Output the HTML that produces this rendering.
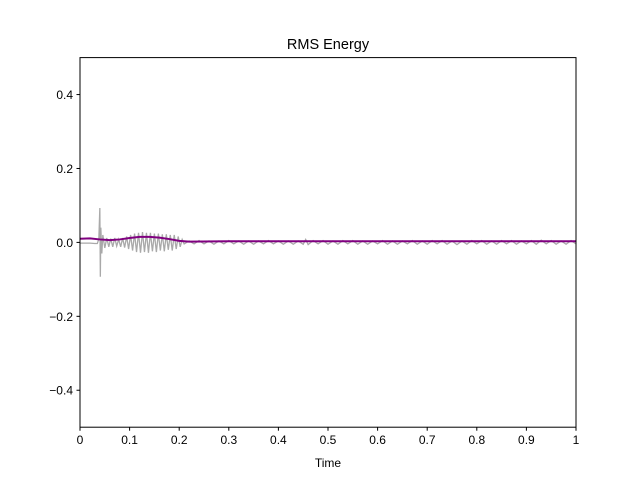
<!DOCTYPE html>
<html><head><meta charset="utf-8"><style>
body{margin:0;background:#fff;font-family:"Liberation Sans","DejaVu Sans",sans-serif}
</style></head><body>
<svg id="chart" width="640" height="480" xmlns="http://www.w3.org/2000/svg">
<rect width="640" height="480" fill="#fff"/>
<text x="328" y="49" font-size="14.5" text-anchor="middle">RMS Energy</text>
<g id="plot"></g>
<rect x="80" y="57.6" width="496" height="369.6" fill="none" stroke="#000" stroke-width="1"/>
<g id="xt"></g><g id="yt"></g>
<text x="328" y="467" font-size="12" text-anchor="middle">Time</text>
</svg>
<script>
const xTicks=[0,0.1,0.2,0.3,0.4,0.5,0.6,0.7,0.8,0.9,1];
const xTickLabels=["0","0.1","0.2","0.3","0.4","0.5","0.6","0.7","0.8","0.9","1"];
const yTicks=[0.4,0.2,0,-0.2,-0.4];
const yTickLabels=["0.4","0.2","0.0","\u22120.2","\u22120.4"];
const waveTimes=[0,0.01,0.02,0.03,0.035,0.038,0.04,0.041,0.042,0.044,0.046,0.05,0.054,0.058,0.062,0.066,0.07,0.074,0.078,0.082,0.086,0.09,0.094,0.098,0.102,0.106,0.11,0.114,0.118,0.122,0.126,0.13,0.134,0.138,0.142,0.146,0.15,0.154,0.158,0.162,0.166,0.17,0.174,0.178,0.182,0.186,0.19,0.194,0.198,0.202,0.206,0.21,0.22,0.23,0.24,0.25,0.26,0.27,0.28,0.29,0.3,0.31,0.32,0.33,0.34,0.35,0.36,0.37,0.38,0.39,0.4,0.41,0.42,0.43,0.44,0.45,0.455,0.46,0.47,0.48,0.49,0.5,0.51,0.52,0.53,0.54,0.55,0.56,0.57,0.58,0.59,0.6,0.61,0.62,0.63,0.64,0.65,0.66,0.67,0.68,0.69,0.7,0.71,0.72,0.73,0.74,0.75,0.76,0.77,0.78,0.79,0.8,0.81,0.82,0.83,0.84,0.85,0.86,0.87,0.88,0.89,0.9,0.91,0.92,0.93,0.94,0.95,0.96,0.97,0.98,0.99,1];
const waveValues=[-0.002,-0.002,-0.002,-0.003,-0.003,0.01,0.093,-0.093,0.04,-0.03,0.02,-0.015,0.012,-0.012,0.01,-0.012,0.012,-0.01,0.008,-0.012,0.012,-0.014,0.016,-0.018,0.02,-0.022,0.024,-0.026,0.026,-0.028,0.028,-0.026,0.026,-0.028,0.026,-0.024,0.024,-0.026,0.024,-0.022,0.022,-0.024,0.022,-0.02,0.02,-0.022,0.02,-0.018,0.016,-0.012,0.008,-0.004,0.004,-0.004,0.005,-0.004,0.004,-0.005,0.004,-0.004,0.005,-0.004,0.004,-0.005,0.004,-0.005,0.004,-0.004,0.005,-0.004,0.004,-0.005,0.004,-0.005,0.004,-0.005,0.008,-0.006,0.005,-0.004,0.005,-0.005,0.004,-0.005,0.005,-0.004,0.005,-0.005,0.004,-0.005,0.004,-0.004,0.005,-0.005,0.004,-0.005,0.004,-0.004,0.005,-0.005,0.004,-0.005,0.005,-0.004,0.005,-0.005,0.004,-0.006,0.004,-0.005,0.005,-0.004,0.005,-0.005,0.004,-0.005,0.005,-0.004,0.005,-0.005,0.004,-0.004,0.005,-0.005,0.006,-0.004,0.005,-0.005,0.004,-0.005,0.005,-0.004];
const rmsTimes=[0,0.02,0.04,0.06,0.08,0.1,0.12,0.14,0.16,0.18,0.2,0.22,0.3,0.4,0.5,0.6,0.7,0.8,0.9,1];
const rmsValues=[0.01,0.011,0.008,0.006,0.008,0.012,0.015,0.015,0.013,0.009,0.004,0.002,0.003,0.003,0.003,0.003,0.003,0.003,0.003,0.003];
const X0=80,X1=576,Y0=57.6,Y1=427.2;
const xs=t=>X0+(X1-X0)*t;
const ys=v=>Y1-(v+0.5)*(Y1-Y0);
const NS="http://www.w3.org/2000/svg";
const plot=document.getElementById('plot');
const wave=document.createElementNS(NS,'path');
wave.setAttribute('d',waveTimes.map((t,i)=>(i?'L':'M')+xs(t).toFixed(2)+','+ys(waveValues[i]).toFixed(2)).join(''));
wave.setAttribute('fill','none');wave.setAttribute('stroke','#a9a9a9');wave.setAttribute('stroke-width','1.3');


plot.appendChild(wave);
const rms=document.createElementNS(NS,'path');
rms.setAttribute('d',rmsTimes.map((t,i)=>(i?'L':'M')+xs(t).toFixed(2)+','+ys(rmsValues[i]).toFixed(2)).join(''));
rms.setAttribute('fill','none');rms.setAttribute('stroke','#800080');rms.setAttribute('stroke-width','2');


plot.appendChild(rms);
const xt=document.getElementById('xt');
xTicks.forEach((t,i)=>{
 const l=document.createElementNS(NS,'line');
 l.setAttribute('x1',xs(t));l.setAttribute('x2',xs(t));l.setAttribute('y1',Y1);l.setAttribute('y2',Y1+3.5);l.setAttribute('stroke','#000');
 
 
 xt.appendChild(l);
 const tx=document.createElementNS(NS,'text');
 tx.setAttribute('x',xs(t));tx.setAttribute('y',Y1+17);tx.setAttribute('font-size','12');tx.setAttribute('text-anchor','middle');
 tx.textContent=xTickLabels[i];
 
 
 xt.appendChild(tx);
});
const yt=document.getElementById('yt');
yTicks.forEach((v,i)=>{
 const l=document.createElementNS(NS,'line');
 l.setAttribute('x1',X0-3.5);l.setAttribute('x2',X0);l.setAttribute('y1',ys(v));l.setAttribute('y2',ys(v));l.setAttribute('stroke','#000');
 
 
 yt.appendChild(l);
 const tx=document.createElementNS(NS,'text');
 tx.setAttribute('x',X0-7);tx.setAttribute('y',ys(v)+4.5);tx.setAttribute('font-size','12');tx.setAttribute('text-anchor','end');
 tx.textContent=yTickLabels[i];
 
 
 yt.appendChild(tx);
});
</script>
</body></html>
